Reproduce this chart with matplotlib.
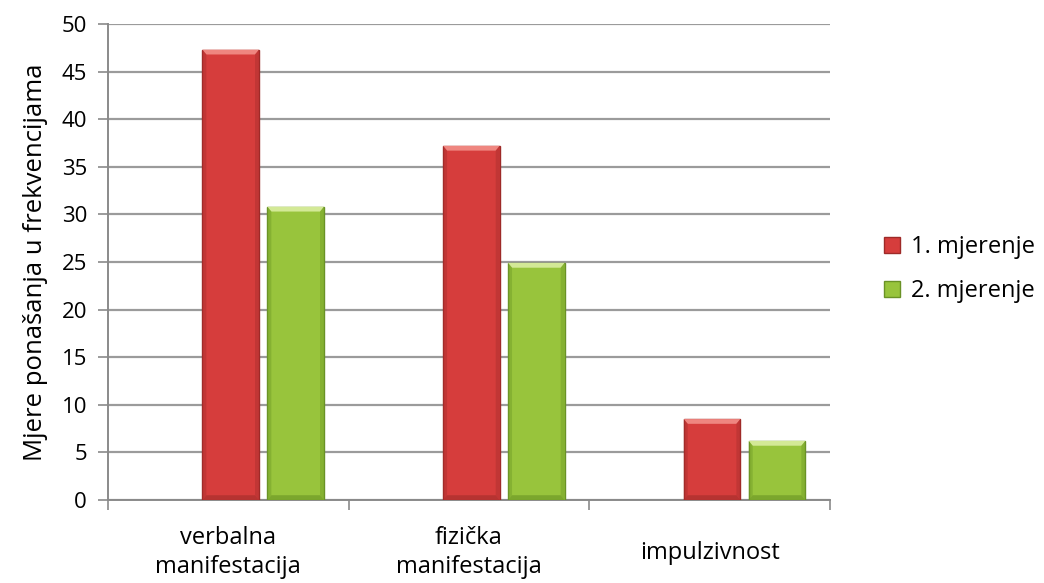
import numpy as np
import matplotlib.pyplot as plt
from matplotlib.patches import Polygon
from matplotlib.lines import Line2D

categories = ['verbalna\nmanifestacija', 'fizička\nmanifestacija', 'impulzivnost']
mjerenje_1 = [47.3, 37.2, 8.5]
mjerenje_2 = [30.8, 24.9, 6.2]
series_names = ['1. mjerenje', '2. mjerenje']

plt.rcParams['font.family'] = ['Open Sans', 'DejaVu Sans']

fig = plt.figure(figsize=(10.44, 5.83), dpi=100)
ax = fig.add_axes([0.1034, 0.1424, 0.6916, 0.8164])

x = np.arange(len(categories))
w = 0.235
styles = [
    dict(face='#d63d3c', edge='#9e2a28', light='#ef8680', dark='#a92f2d'),
    dict(face='#98c43c', edge='#6a9226', light='#d3e996', dark='#6f9a27'),
]
offsets = [0.01, 0.28]


def bevel(ax, x0, x1, h, st):
    # lighter top bevel and darker side/bottom bevels, sized in data units
    dx = (x1 - x0) * 0.07
    dy = min(0.5, h * 0.1)
    ax.add_patch(Polygon([(x0, h), (x1, h), (x1 - dx, h - dy), (x0 + dx, h - dy)],
                         closed=True, facecolor=st['light'], edgecolor='none', zorder=3.1))
    ax.add_patch(Polygon([(x0, 0), (x0, h), (x0 + dx, h - dy), (x0 + dx, dy)],
                         closed=True, facecolor=st['dark'], edgecolor='none', alpha=0.45, zorder=3.1))
    ax.add_patch(Polygon([(x1, 0), (x1, h), (x1 - dx, h - dy), (x1 - dx, dy)],
                         closed=True, facecolor=st['dark'], edgecolor='none', alpha=0.45, zorder=3.1))
    ax.add_patch(Polygon([(x0, 0), (x1, 0), (x1 - dx, dy), (x0 + dx, dy)],
                         closed=True, facecolor=st['dark'], edgecolor='none', alpha=0.7, zorder=3.1))


for vals, st, off in zip([mjerenje_1, mjerenje_2], styles, offsets):
    bars = ax.bar(x + off, vals, width=w, color=st['face'], edgecolor=st['edge'],
                  linewidth=1.0, zorder=3)
    for b in bars:
        bevel(ax, b.get_x(), b.get_x() + b.get_width(), b.get_height(), st)

ax.set_xlim(-0.5, len(categories) - 0.5)
ax.set_ylim(0, 50)
ax.set_yticks(np.arange(0, 51, 5))
ax.yaxis.grid(True, color='#9b9b9b', linewidth=1.6, zorder=0)
ax.set_axisbelow(True)

ax.set_xticks(x)
ax.set_xticklabels(categories, fontsize=17, linespacing=1.3, va='center')
ax.set_xticks(np.arange(-0.5, len(categories), 1.0), minor=True)
ax.tick_params(axis='x', which='major', length=0, pad=38)
ax.tick_params(axis='x', which='minor', length=7, width=1.2, color='#8a8a8a')
ax.tick_params(axis='y', length=7, width=1.2, color='#8a8a8a', labelsize=16, pad=8)

for s in ['top', 'right']:
    ax.spines[s].set_visible(False)
for s in ['left', 'bottom']:
    ax.spines[s].set_color('#8a8a8a')
    ax.spines[s].set_linewidth(1.4)

ax.set_ylabel('Mjere ponašanja u frekvencijama', fontsize=18.5, labelpad=10)

handles = [Line2D([], [], marker='s', linestyle='none', markersize=11,
                  markerfacecolor=st['face'], markeredgecolor=st['edge'])
           for st in styles]
ax.legend(handles, series_names, loc='center left', bbox_to_anchor=(1.04, 0.485),
          frameon=False, fontsize=17, handletextpad=0.3, labelspacing=0.85,
          handlelength=1.0)

fig.savefig('out.png', dpi=100)
